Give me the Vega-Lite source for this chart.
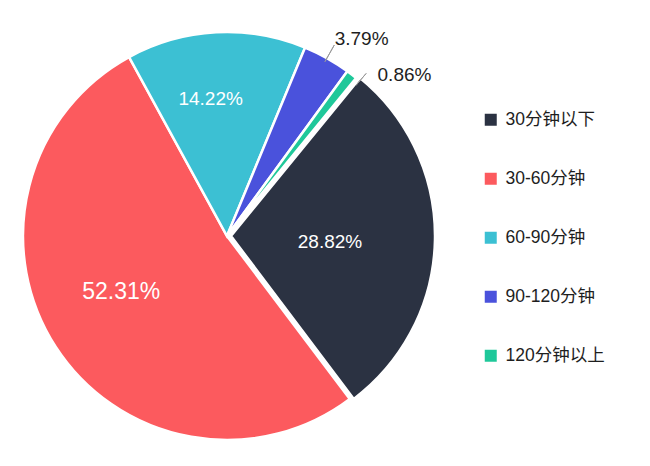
{
  "$schema": "https://vega.github.io/schema/vega-lite/v6.json",
  "width": 420,
  "height": 420,
  "autosize": {"type": "none"},
  "padding": {"left": 17, "top": 26, "right": 213, "bottom": 20},
  "background": "white",
  "config": {
    "view": {"stroke": null},
    "font": "Liberation Sans, Noto Sans CJK SC"
  },
  "data": {
    "values": [
      {"category": "30分钟以下", "value": 28.82, "label": "28.82%", "order": 1},
      {"category": "30-60分钟", "value": 52.31, "label": "52.31%", "order": 2},
      {"category": "60-90分钟", "value": 14.22, "label": "14.22%", "order": 3},
      {"category": "90-120分钟", "value": 3.79, "label": "3.79%", "order": 4},
      {"category": "120分钟以上", "value": 0.86, "label": "0.86%", "order": 5}
    ]
  },
  "encoding": {
    "theta": {"field": "value", "type": "quantitative", "stack": true, "scale": {"range": [0.685, 6.9682]}},
    "order": {"field": "order", "type": "quantitative"}
  },
  "layer": [
    {
      "mark": {"type": "arc", "outerRadius": 204, "stroke": "white", "strokeWidth": 2.5},
      "encoding": {
        "color": {
          "field": "category",
          "type": "nominal",
          "scale": {
            "domain": ["30分钟以下", "30-60分钟", "60-90分钟", "90-120分钟", "120分钟以上"],
            "range": ["#2b3242", "#fc5a5e", "#3cc0d3", "#4a52dc", "#1fc89a"]
          },
          "legend": {
            "title": null,
            "orient": "none",
            "legendX": 465,
            "legendY": 85,
            "symbolType": "square",
            "symbolSize": 144,
            "symbolStrokeWidth": 0,
            "labelFontSize": 17.5,
            "labelColor": "#1e1e1e",
            "labelFont": "Liberation Sans, Noto Sans CJK SC",
            "labelOffset": 6,
            "rowPadding": 40,
            "labelLimit": 200
          }
        },
        "opacity": {"condition": {"test": "datum.category === '30分钟以下'", "value": 0}, "value": 1}
      }
    },
    {
      "mark": {"type": "arc", "outerRadius": 204, "stroke": "white", "strokeWidth": 2.5, "xOffset": 4},
      "encoding": {
        "color": {"field": "category", "type": "nominal"},
        "opacity": {"condition": {"test": "datum.category === '30分钟以下'", "value": 1}, "value": 0}
      }
    },
    {
      "mark": {"type": "arc", "innerRadius": 200, "outerRadius": 219, "padAngle": 1, "fill": null, "stroke": "#9a9a9a", "strokeWidth": 1},
      "encoding": {
        "opacity": {"condition": {"test": "datum.category === '90-120分钟'", "value": 1}, "value": 0}
      }
    },
    {
      "mark": {"type": "arc", "innerRadius": 198, "outerRadius": 214, "padAngle": 1, "thetaOffset": 0.05, "fill": null, "stroke": "#9a9a9a", "strokeWidth": 1},
      "encoding": {
        "opacity": {"condition": {"test": "datum.category === '120分钟以上'", "value": 1}, "value": 0}
      }
    },
    {
      "mark": {"type": "text", "radius": 103, "dy": 4, "fontSize": 19, "color": "white"},
      "encoding": {
        "text": {"condition": {"test": "datum.category === '30分钟以下'", "field": "label"}, "value": ""}
      }
    },
    {
      "mark": {"type": "text", "radius": 120, "dx": -5, "dy": -9, "fontSize": 23, "color": "white"},
      "encoding": {
        "text": {"condition": {"test": "datum.category === '30-60分钟'", "field": "label"}, "value": ""}
      }
    },
    {
      "mark": {"type": "text", "radius": 137, "dx": -9, "fontSize": 19, "color": "white"},
      "encoding": {
        "text": {"condition": {"test": "datum.category === '60-90分钟'", "field": "label"}, "value": ""}
      }
    },
    {
      "mark": {"type": "text", "radius": 226, "dx": -3, "align": "left", "baseline": "middle", "fontSize": 19, "color": "#1e1e1e"},
      "encoding": {
        "text": {"condition": {"test": "datum.category === '90-120分钟'", "field": "label"}, "value": ""}
      }
    },
    {
      "mark": {"type": "text", "radius": 220, "dx": 16, "dy": 13, "align": "left", "baseline": "middle", "fontSize": 19, "color": "#1e1e1e"},
      "encoding": {
        "text": {"condition": {"test": "datum.category === '120分钟以上'", "field": "label"}, "value": ""}
      }
    }
  ]
}
